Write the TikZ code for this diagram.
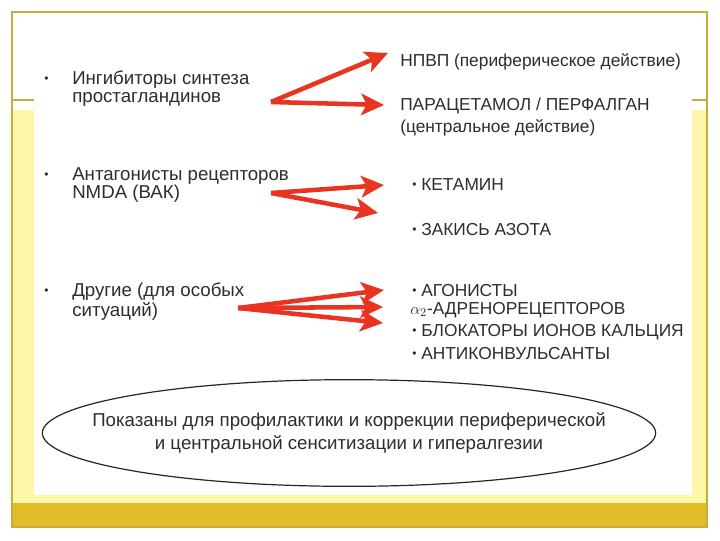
\documentclass[tikz,border=0pt]{standalone}
\usepackage{fontspec}
\setmainfont{Liberation Sans}
\usetikzlibrary{arrows.meta}
\definecolor{framegold}{RGB}{200,172,62}
\definecolor{paleyellow}{RGB}{255,246,170}
\definecolor{bargold}{RGB}{227,188,42}
\definecolor{arrowred}{RGB}{232,52,32}
\definecolor{textgrey}{RGB}{45,45,45}
\newcommand\smalldot{{\fontsize{9}{9}\selectfont\raisebox{1.4pt}{•}}}
\tikzset{
  item/.style={anchor=base west,inner sep=0pt,text=textgrey,font=\fontsize{14}{16}\selectfont},
  drug/.style={item,font=\fontsize{13}{15}\selectfont},
  redarrow/.style={draw=arrowred,line width=3.4pt,-{Stealth[length=17pt,width=16pt,inset=4pt]}},
  note/.style={align=center,inner sep=0pt,text=textgrey,font=\fontsize{14}{17.5}\selectfont},
}
\begin{document}
\begin{tikzpicture}[x=0.75pt,y=-0.75pt]
  \useasboundingbox (0,0) rectangle (720,540);
  % slide background
  \fill[white] (0,0) rectangle (720,540);
  \fill[paleyellow] (12,110) rectangle (707,503);
  \fill[bargold] (12,503) rectangle (707,527);
  \draw[framegold,line width=0.8pt] (12,12) rectangle (707,527);
  \draw[framegold,line width=0.8pt] (12,100) -- (707,100);
  \fill[white] (34,30) rectangle (692,495);
  %
  \node[item] (b1) at (44,84) {\smalldot};
  \node[item] (inh1) at (72,84) {Ингибиторы синтеза};
  \node[item] (inh2) at (72,102) {простагландинов};
  \node[item] (b2) at (44,180) {\smalldot};
  \node[item] (ant1) at (72,180) {Антагонисты рецепторов};
  \node[item] (ant2) at (72,198) {NMDA (ВАК)};
  \node[item] (b3) at (44,296) {\smalldot};
  \node[item] (oth1) at (72,296) {Другие (для особых};
  \node[item] (oth2) at (72,316) {ситуаций)};
  %
  \node[drug] (npvp) at (400,66) {НПВП (периферическое действие)};
  \node[drug] (para1) at (400,110) {ПАРАЦЕТАМОЛ / ПЕРФАЛГАН};
  \node[drug] (para2) at (400,132) {(центральное действие)};
  \node[drug] (ket) at (412,190) {\smalldot\ КЕТАМИН};
  \node[drug] (azot) at (412,235) {\smalldot\ ЗАКИСЬ АЗОТА};
  \node[drug] (agon1) at (412,296) {\smalldot\ АГОНИСТЫ};
  \node[drug] (agon2) at (410,314) {$\alpha_2$-АДРЕНОРЕЦЕПТОРОВ};
  \node[drug] (block) at (412,336) {\smalldot\ БЛОКАТОРЫ ИОНОВ КАЛЬЦИЯ};
  \node[drug] (conv) at (412,359) {\smalldot\ АНТИКОНВУЛЬСАНТЫ};
  %
  \node[note] (summary) at (349,433) {Показаны для профилактики и коррекции периферической\\и центральной сенситизации и гипералгезии};
  \draw[black!85,line width=0.9pt] (summary.center) ellipse [x radius=230pt,y radius=40pt];
  %
  \coordinate (o1) at (271,102);
  \coordinate (t1a) at (388,53);
  \coordinate (t1b) at (384,105);
  \coordinate (o2) at (271,193);
  \coordinate (t2a) at (384,185);
  \coordinate (t2b) at (378,213);
  \coordinate (o3) at (238,308);
  \coordinate (t3a) at (384,290);
  \coordinate (t3b) at (383,307);
  \coordinate (t3c) at (383,323);
  %
  \draw[redarrow] (o1) -- (t1a);
  \draw[redarrow] (o1) -- (t1b);
  \draw[redarrow] (o2) -- (t2a);
  \draw[redarrow] (o2) -- (t2b);
  \draw[redarrow] (o3) -- (t3a);
  \draw[redarrow] (o3) -- (t3b);
  \draw[redarrow] (o3) -- (t3c);
\end{tikzpicture}
\end{document}
